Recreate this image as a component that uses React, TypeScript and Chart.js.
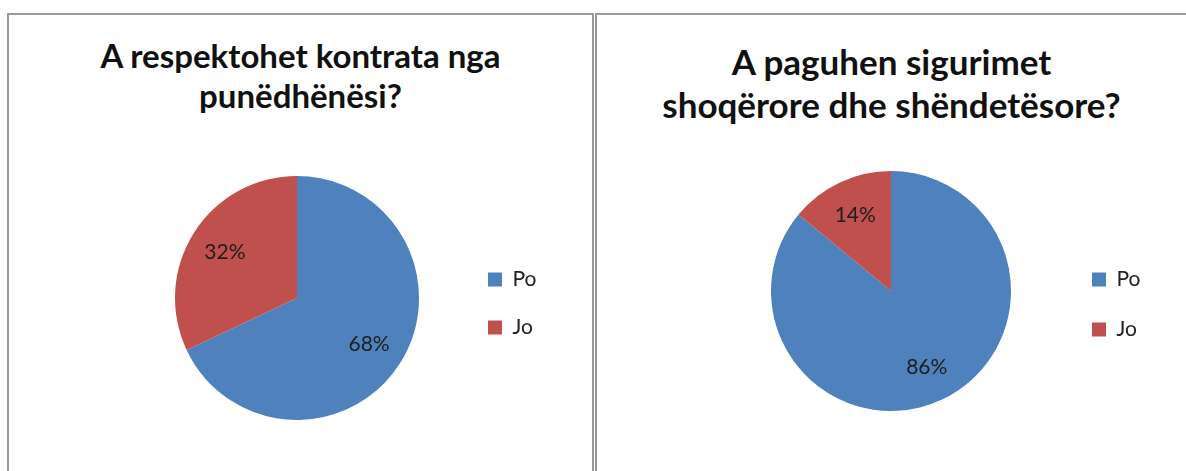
import React, { useEffect, useRef } from "react";
import { Chart, registerables } from "chart.js";

Chart.register(...registerables);

const categories = ["Po", "Jo"];
const contractValues = [68, 32];
const insuranceValues = [86, 14];
const contractTitle = ["A respektohet kontrata nga", "punëdhënësi?"];
const insuranceTitle = ["A paguhen sigurimet", "shoqërore dhe shëndetësore?"];
const sliceColors = ["#4F81BD", "#C0504D"];

const FONT = "Lato, 'Open Sans', sans-serif";

const pctLabels = {
  id: "pctLabels",
  afterDatasetsDraw(chart: any) {
    const ctx = chart.ctx;
    const meta = chart.getDatasetMeta(0);
    const data = chart.data.datasets[0].data as number[];
    ctx.save();
    ctx.font = `21px ${FONT}`;
    ctx.fillStyle = "#1e1e1e";
    ctx.textAlign = "center";
    ctx.textBaseline = "middle";
    meta.data.forEach((arc: any, i: number) => {
      const p = arc.getProps(["x", "y", "startAngle", "endAngle", "outerRadius"], true);
      const mid = (p.startAngle + p.endAngle) / 2;
      const r = p.outerRadius * 0.7;
      ctx.fillText(`${data[i]}%`, p.x + Math.cos(mid) * r, p.y + Math.sin(mid) * r);
    });
    ctx.restore();
  },
};

type PanelProps = {
  values: number[];
  title: string[];
  boxLeft: number;
  boxWidth: number;
  canvasWidth: number;
  pad: { left: number; right: number; top: number; bottom: number };
  legendShift: number;
  legendGap: number;
  legendWidth: number;
  titleTop: number;
  titleSize: number;
  titleLine: number;
};

function PiePanel(props: PanelProps) {
  const ref = useRef<HTMLCanvasElement | null>(null);
  const canvasHeight = 456;
  useEffect(() => {
    if (!ref.current) return;
    const chart = new Chart(ref.current, {
      type: "pie",
      data: {
        labels: categories,
        datasets: [
          {
            data: props.values,
            backgroundColor: sliceColors,
            borderWidth: 0,
          },
        ],
      },
      options: {
        responsive: false,
        animation: false,
        layout: { padding: props.pad },
        plugins: {
          title: { display: false },
          tooltip: { enabled: false },
          legend: {
            position: "right",
            fullSize: false,
            align: "center",
            maxWidth: props.legendWidth,
            title: {
              display: true,
              text: "",
              font: { size: 1, lineHeight: 1 },
              padding: { top: props.legendShift - 1, bottom: 0 },
            },
            labels: {
              boxWidth: 14,
              boxHeight: 14,
              padding: props.legendGap,
              color: "#222",
              font: { family: FONT, size: 21 },
            },
          },
        },
      } as any,
      plugins: [pctLabels],
    });
    return () => chart.destroy();
  }, []);

  return (
    <div
      style={{
        position: "absolute",
        left: props.boxLeft,
        top: 13,
        width: props.boxWidth,
        height: 520,
        border: "2px solid #9a9a9a",
        background: "#fff",
      }}
    >
      <div
        style={{
          position: "absolute",
          left: 0,
          top: props.titleTop - 15,
          width: props.canvasWidth,
          textAlign: "center",
          fontFamily: FONT,
          fontWeight: 700,
          fontSize: props.titleSize,
          lineHeight: `${props.titleLine}px`,
          color: "#111",
          whiteSpace: "nowrap",
        }}
      >
        {props.title.map((t, i) => (
          <div key={i}>{t}</div>
        ))}
      </div>
      <canvas
        ref={ref}
        width={props.canvasWidth}
        height={canvasHeight}
        style={{ position: "absolute", left: 0, top: 0, width: props.canvasWidth, height: canvasHeight }}
      />
    </div>
  );
}

export default function App() {
  return (
    <div style={{ position: "absolute", left: 0, top: 0, width: 1186, height: 471, overflow: "hidden", background: "#fff" }}>
      <PiePanel
        values={contractValues}
        title={contractTitle}
        boxLeft={7}
        boxWidth={583}
        canvasWidth={583}
        pad={{ left: 124, right: 51, top: 161, bottom: 51 }}
        legendShift={11}
        legendGap={27}
        legendWidth={80}
        titleTop={35}
        titleSize={33}
        titleLine={40}
      />
      <PiePanel
        values={insuranceValues}
        title={insuranceTitle}
        boxLeft={595}
        boxWidth={620}
        canvasWidth={589}
        pad={{ left: 122, right: 41, top: 156, bottom: 60 }}
        legendShift={27}
        legendGap={29}
        legendWidth={82}
        titleTop={40}
        titleSize={35}
        titleLine={43}
      />
    </div>
  );
}
